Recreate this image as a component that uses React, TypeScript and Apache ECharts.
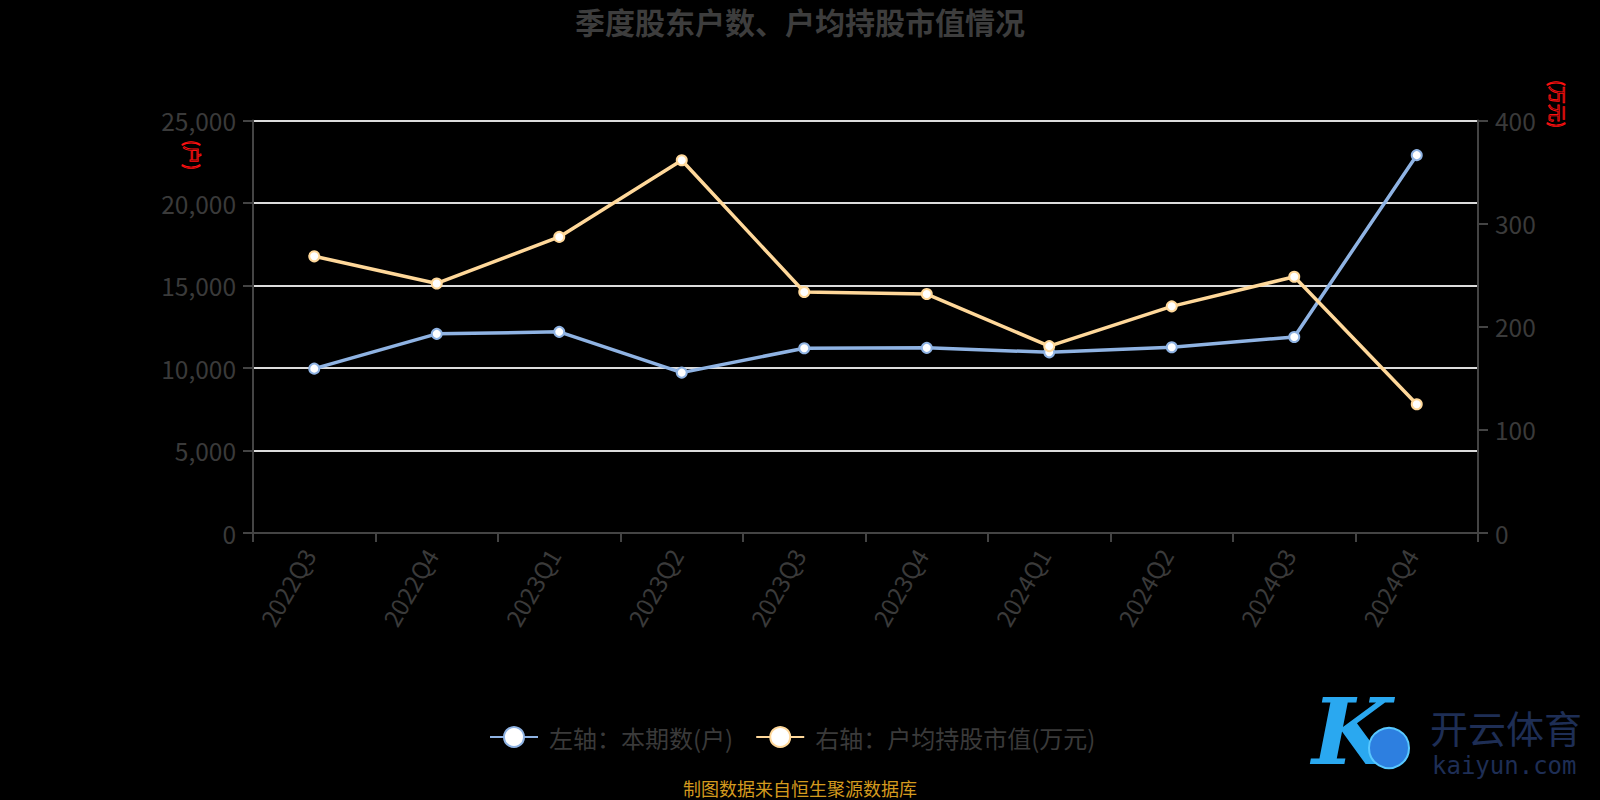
import React, { useEffect, useRef } from "react";
import * as echarts from "echarts";

const categories = ["2022Q3", "2022Q4", "2023Q1", "2023Q2", "2023Q3", "2023Q4", "2024Q1", "2024Q2", "2024Q3", "2024Q4"];
const holders = [9960, 12070, 12190, 9720, 11200, 11220, 10950, 11260, 11880, 22900];
const avgValue = [268.3, 242.0, 287.1, 361.4, 233.7, 231.7, 181.2, 219.8, 248.5, 124.8];
const leftTicks = { min: 0, max: 25000, interval: 5000 };
const rightTicks = { min: 0, max: 400, interval: 100 };

const FONT = "'Noto Sans CJK SC', 'Noto Sans', sans-serif";

export default function App() {
  const ref = useRef<HTMLDivElement>(null);
  useEffect(() => {
    const chart = echarts.init(ref.current!, null, { renderer: "svg" });
    chart.setOption({
      animation: false,
      backgroundColor: "#000",
      textStyle: { fontFamily: FONT },
      title: {
        text: "季度股东户数、户均持股市值情况",
        left: "center",
        top: 1,
        textStyle: { color: "#3d3d3d", fontSize: 30, fontWeight: "bold", fontFamily: FONT },
      },
      grid: { left: 253, right: 122, top: 120.5, bottom: 267 },
      legend: {
        left: 484,
        top: 720,
        itemWidth: 48,
        itemHeight: 25,
        itemGap: 22,
        textStyle: { color: "#3a3a3a", fontSize: 24, fontFamily: FONT, padding: [0, 0, 0, 6] },
        data: ["左轴：本期数(户)", "右轴：户均持股市值(万元)"],
      },
      xAxis: {
        type: "category",
        data: categories,
        boundaryGap: true,
        axisLine: { lineStyle: { color: "#444", width: 2 } },
        axisTick: { show: true, length: 9, lineStyle: { color: "#444", width: 2 } },
        axisLabel: {
          color: "#3a3a3a",
          fontSize: 24,
          rotate: 60,
          margin: 7,
          padding: [0, 12, 0, 0],
          fontFamily: FONT,
        },
        splitLine: { show: false },
      },
      yAxis: [
        {
          type: "value",
          min: leftTicks.min,
          max: leftTicks.max,
          interval: leftTicks.interval,
          axisLine: { show: true, lineStyle: { color: "#444", width: 2 } },
          axisTick: { show: true, length: 10, lineStyle: { color: "#444", width: 2 } },
          axisLabel: {
            color: "#3a3a3a",
            fontSize: 24.5,
            margin: 17,
            padding: [0, 0, 5, 0],
            fontFamily: FONT,
            formatter: (v: number) => v.toLocaleString("en-US"),
          },
          splitLine: { show: true, lineStyle: { color: "#dcdcdc", width: 2 } },
        },
        {
          type: "value",
          min: rightTicks.min,
          max: rightTicks.max,
          interval: rightTicks.interval,
          axisLine: { show: true, lineStyle: { color: "#444", width: 2 } },
          axisTick: { show: true, length: 10, lineStyle: { color: "#444", width: 2 } },
          axisLabel: {
            color: "#3a3a3a",
            fontSize: 24.5,
            margin: 17,
            padding: [0, 0, 5, 0],
            fontFamily: FONT,
          },
          splitLine: { show: false },
        },
      ],
      series: [
        {
          name: "左轴：本期数(户)",
          type: "line",
          yAxisIndex: 0,
          data: holders,
          symbol: "circle",
          symbolSize: 10,
          itemStyle: { color: "#fff", borderColor: "#8fb3e3", borderWidth: 2 },
          lineStyle: { color: "#8fb3e3", width: 3.5 },
          z: 3,
        },
        {
          name: "右轴：户均持股市值(万元)",
          type: "line",
          yAxisIndex: 1,
          data: avgValue,
          symbol: "circle",
          symbolSize: 10,
          itemStyle: { color: "#fff", borderColor: "#ffd89a", borderWidth: 2 },
          lineStyle: { color: "#ffd89a", width: 3.5 },
          z: 4,
        },
      ],
      graphic: [
        {
          type: "text",
          x: 202,
          y: 140,
          rotation: -Math.PI / 2,
          style: {
            text: "(户)",
            fill: "transparent",
            stroke: "#ff1010",
            lineWidth: 0.9,
            fontSize: 18,
            fontFamily: FONT,
          },
        },
        {
          type: "text",
          x: 1567,
          y: 80,
          rotation: -Math.PI / 2,
          style: {
            text: "(万元)",
            fill: "transparent",
            stroke: "#ff1010",
            lineWidth: 0.9,
            fontSize: 18,
            fontFamily: FONT,
          },
        },
        {
          type: "text",
          left: "center",
          top: 779,
          style: { text: "制图数据来自恒生聚源数据库", fill: "#d49a1e", fontSize: 18, fontFamily: FONT },
        },
        {
          type: "text",
          left: 1312,
          top: 686,
          style: {
            text: "K",
            fill: "#2aa8f0",
            fontSize: 92,
            fontStyle: "italic",
            fontWeight: "bold",
            fontFamily: "'DejaVu Serif', serif",
          },
        },
        {
          type: "circle",
          shape: { cx: 1389, cy: 748, r: 20 },
          style: { fill: "#2d7fe0", stroke: "#58c8ff", lineWidth: 2 },
        },
        {
          type: "text",
          left: 1430,
          top: 707,
          style: { text: "开云体育", fill: "#1e2e55", fontSize: 38, fontFamily: FONT },
        },
        {
          type: "text",
          left: 1432,
          top: 754,
          style: { text: "kaiyun.com", fill: "#1e2e55", fontSize: 24, fontFamily: "'DejaVu Sans Mono', monospace" },
        },
      ],
    });
    return () => chart.dispose();
  }, []);
  return (
    <div
      ref={ref}
      style={{ position: "fixed", left: 0, top: 0, width: 1600, height: 800, background: "#000" }}
    />
  );
}
